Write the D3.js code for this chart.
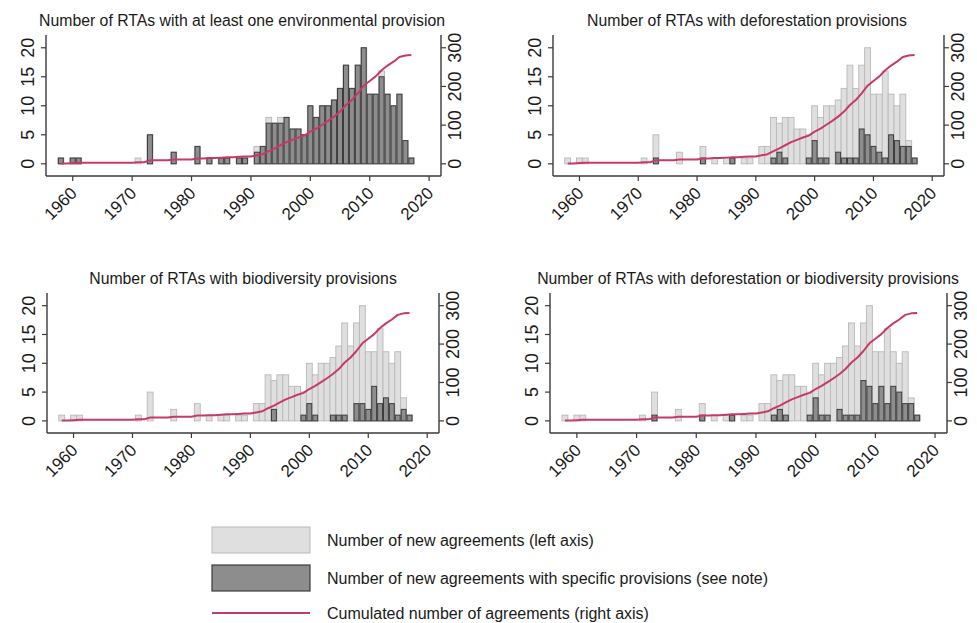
<!DOCTYPE html>
<html>
<head>
<meta charset="utf-8">
<script src="https://cdn.jsdelivr.net/npm/d3@7"></script>
<style>
  html, body { margin: 0; padding: 0; background: #ffffff; }
  svg text { font-family: "Liberation Sans", Arial, sans-serif; fill: #1a1a1a; }
</style>
</head>
<body>
<svg id="chart" width="977" height="623"></svg>
<script>
// Years covered by the series
const years = [
  1958, 1959, 1960, 1961, 1962, 1963, 1964, 1965, 1966, 1967, 1968, 1969,
  1970, 1971, 1972, 1973, 1974, 1975, 1976, 1977, 1978, 1979,
  1980, 1981, 1982, 1983, 1984, 1985, 1986, 1987, 1988, 1989,
  1990, 1991, 1992, 1993, 1994, 1995, 1996, 1997, 1998, 1999,
  2000, 2001, 2002, 2003, 2004, 2005, 2006, 2007, 2008, 2009,
  2010, 2011, 2012, 2013, 2014, 2015, 2016, 2017
];

// New RTAs per year (all agreements)
const newAgreements = [
  1, 0, 1, 1, 0, 0, 0, 0, 0, 0, 0, 0,
  0, 1, 0, 5, 0, 0, 0, 2, 0, 0,
  0, 3, 0, 1, 0, 1, 1, 0, 1, 1,
  0, 3, 3, 8, 7, 8, 8, 6, 6, 5,
  10, 8, 10, 10, 11, 13, 17, 13, 17, 20,
  12, 12, 16, 12, 10, 12, 4, 1
];

// New RTAs with at least one environmental provision
const withEnvironmental = [
  1, 0, 1, 1, 0, 0, 0, 0, 0, 0, 0, 0,
  0, 0, 0, 5, 0, 0, 0, 2, 0, 0,
  0, 3, 0, 1, 0, 1, 1, 0, 1, 1,
  0, 2, 3, 7, 7, 7, 8, 6, 6, 5,
  10, 8, 10, 10, 11, 13, 17, 13, 17, 20,
  12, 12, 15, 12, 10, 12, 4, 1
];

// New RTAs with deforestation provisions
const withDeforestation = [
  0, 0, 0, 0, 0, 0, 0, 0, 0, 0, 0, 0,
  0, 0, 0, 1, 0, 0, 0, 0, 0, 0,
  0, 1, 0, 0, 0, 0, 1, 0, 0, 0,
  0, 0, 0, 1, 2, 1, 0, 0, 0, 1,
  4, 1, 1, 0, 2, 1, 1, 1, 6, 5,
  3, 2, 1, 5, 4, 3, 3, 1
];

// New RTAs with biodiversity provisions
const withBiodiversity = [
  0, 0, 0, 0, 0, 0, 0, 0, 0, 0, 0, 0,
  0, 0, 0, 0, 0, 0, 0, 0, 0, 0,
  0, 0, 0, 0, 0, 0, 0, 0, 0, 0,
  0, 0, 0, 0, 2, 0, 0, 0, 0, 1,
  3, 1, 0, 0, 1, 1, 1, 0, 3, 3,
  2, 6, 3, 4, 3, 1, 2, 1
];

// New RTAs with deforestation or biodiversity provisions
const withEither = [
  0, 0, 0, 0, 0, 0, 0, 0, 0, 0, 0, 0,
  0, 0, 0, 1, 0, 0, 0, 0, 0, 0,
  0, 1, 0, 0, 0, 0, 1, 0, 0, 0,
  0, 0, 0, 1, 2, 1, 0, 0, 0, 1,
  4, 1, 1, 0, 2, 1, 1, 1, 7, 6,
  3, 6, 3, 6, 5, 3, 3, 1
];

const panelTitles = [
  "Number of RTAs with at least one environmental provision",
  "Number of RTAs with deforestation provisions",
  "Number of RTAs with biodiversity provisions",
  "Number of RTAs with deforestation or biodiversity provisions"
];

const leftTicks = [0, 5, 10, 15, 20];
const rightTicks = [0, 100, 200, 300];
const yearTicks = [1960, 1970, 1980, 1990, 2000, 2010, 2020];

const legendLabels = [
  "Number of new agreements (left axis)",
  "Number of new agreements with specific provisions (see note)",
  "Cumulated number of agreements (right axis)"
];

// Running total of agreements, plotted on the right axis
const cumulated = Array.from(d3.cumsum(newAgreements));

const COLORS = {
  lightFill: "#dfdfdf",
  lightStroke: "#b9b9b9",
  darkFill: "#8d8d8d",
  darkStroke: "#3c3c3c",
  line: "#c73a63",
  axis: "#3a3a3a"
};

const svg = d3.select("#chart");

const panels = [
  { title: panelTitles[0], specific: withEnvironmental, left: 46, right: 441, top: 35, bottom: 176, titleX: 242, titleY: 26 },
  { title: panelTitles[1], specific: withDeforestation, left: 553, right: 944, top: 35, bottom: 176, titleX: 747, titleY: 26 },
  { title: panelTitles[2], specific: withBiodiversity, left: 47, right: 439, top: 293, bottom: 433, titleX: 243, titleY: 284 },
  { title: panelTitles[3], specific: withEither, left: 550, right: 947, top: 293, bottom: 433, titleX: 748, titleY: 284 }
];

panels.forEach(p => {
  const g = svg.append("g");

  const x = d3.scaleLinear().domain([1955.5, 2022]).range([p.left, p.right]);
  const y = d3.scaleLinear().domain([-2.1, 22.2]).range([p.bottom, p.top]);
  const y2 = d3.scaleLinear().domain([-2.1 * 15, 22.2 * 15]).range([p.bottom, p.top]);
  const bw = x(1) - x(0);

  // Title
  g.append("text")
    .attr("x", p.titleX).attr("y", p.titleY)
    .attr("text-anchor", "middle")
    .style("font-size", "15.8px")
    .text(p.title);

  // All new agreements (background bars)
  g.append("g").selectAll("rect")
    .data(years.map((yr, i) => ({ yr, v: newAgreements[i] })).filter(d => d.v > 0))
    .join("rect")
    .attr("x", d => x(d.yr) - bw / 2)
    .attr("width", bw)
    .attr("y", d => y(d.v))
    .attr("height", d => y(0) - y(d.v))
    .attr("fill", COLORS.lightFill)
    .attr("stroke", COLORS.lightStroke)
    .attr("stroke-width", 0.9);

  // Agreements with the specific provisions
  g.append("g").selectAll("rect")
    .data(years.map((yr, i) => ({ yr, v: p.specific[i] })).filter(d => d.v > 0))
    .join("rect")
    .attr("x", d => x(d.yr) - bw / 2 + 0.5)
    .attr("width", bw - 1)
    .attr("y", d => y(d.v))
    .attr("height", d => y(0) - y(d.v))
    .attr("fill", COLORS.darkFill)
    .attr("stroke", COLORS.darkStroke)
    .attr("stroke-width", 1);

  // Cumulated number of agreements
  g.append("path")
    .datum(years.map((yr, i) => ({ yr, v: cumulated[i] })))
    .attr("fill", "none")
    .attr("stroke", COLORS.line)
    .attr("stroke-width", 2)
    .attr("stroke-linejoin", "round")
    .attr("d", d3.line().x(d => x(d.yr)).y(d => y2(d.v)));

  // Left axis
  const leftAxis = g.append("g");
  leftAxis.append("line")
    .attr("x1", p.left).attr("x2", p.left)
    .attr("y1", p.top).attr("y2", p.bottom)
    .attr("stroke", COLORS.axis).attr("stroke-width", 1.4);
  leftAxis.selectAll("line.tick").data(leftTicks).join("line")
    .attr("class", "tick")
    .attr("x1", p.left - 5).attr("x2", p.left)
    .attr("y1", d => y(d)).attr("y2", d => y(d))
    .attr("stroke", COLORS.axis).attr("stroke-width", 1.2);
  leftAxis.selectAll("text").data(leftTicks).join("text")
    .attr("transform", d => `translate(${p.left - 12},${y(d)}) rotate(-90)`)
    .attr("text-anchor", "middle")
    .style("font-size", "18px")
    .text(d => d);

  // Right axis
  const rightAxis = g.append("g");
  rightAxis.append("line")
    .attr("x1", p.right).attr("x2", p.right)
    .attr("y1", p.top).attr("y2", p.bottom)
    .attr("stroke", COLORS.axis).attr("stroke-width", 1.4);
  rightAxis.selectAll("line.tick").data(rightTicks).join("line")
    .attr("class", "tick")
    .attr("x1", p.right).attr("x2", p.right + 5)
    .attr("y1", d => y2(d)).attr("y2", d => y2(d))
    .attr("stroke", COLORS.axis).attr("stroke-width", 1.2);
  rightAxis.selectAll("text").data(rightTicks).join("text")
    .attr("transform", d => `translate(${p.right + 20},${y2(d)}) rotate(-90)`)
    .attr("text-anchor", "middle")
    .style("font-size", "18px")
    .text(d => d);

  // Bottom axis
  const bottomAxis = g.append("g");
  bottomAxis.append("line")
    .attr("x1", p.left).attr("x2", p.right)
    .attr("y1", p.bottom).attr("y2", p.bottom)
    .attr("stroke", COLORS.axis).attr("stroke-width", 1.4);
  bottomAxis.selectAll("line.tick").data(yearTicks).join("line")
    .attr("class", "tick")
    .attr("x1", d => x(d)).attr("x2", d => x(d))
    .attr("y1", p.bottom).attr("y2", p.bottom + 5)
    .attr("stroke", COLORS.axis).attr("stroke-width", 1.2);
  bottomAxis.selectAll("text").data(yearTicks).join("text")
    .attr("transform", d => `translate(${x(d) + 1},${p.bottom + 14}) rotate(-45)`)
    .attr("text-anchor", "end")
    .attr("dy", "0.35em")
    .style("font-size", "17px")
    .text(d => d);
});

// Legend
const legend = svg.append("g");
legend.append("rect")
  .attr("x", 212).attr("y", 527).attr("width", 98).attr("height", 26)
  .attr("fill", COLORS.lightFill).attr("stroke", COLORS.lightStroke).attr("stroke-width", 1);
legend.append("rect")
  .attr("x", 212).attr("y", 565).attr("width", 98).attr("height", 26)
  .attr("fill", COLORS.darkFill).attr("stroke", COLORS.darkStroke).attr("stroke-width", 1.2);
legend.append("line")
  .attr("x1", 212).attr("x2", 310).attr("y1", 613).attr("y2", 613)
  .attr("stroke", COLORS.line).attr("stroke-width", 2);
legend.selectAll("text").data(legendLabels).join("text")
  .attr("x", 327)
  .attr("y", (d, i) => [540, 578, 613][i])
  .attr("dy", "0.35em")
  .style("font-size", "16px")
  .text(d => d);
</script>
</body>
</html>
